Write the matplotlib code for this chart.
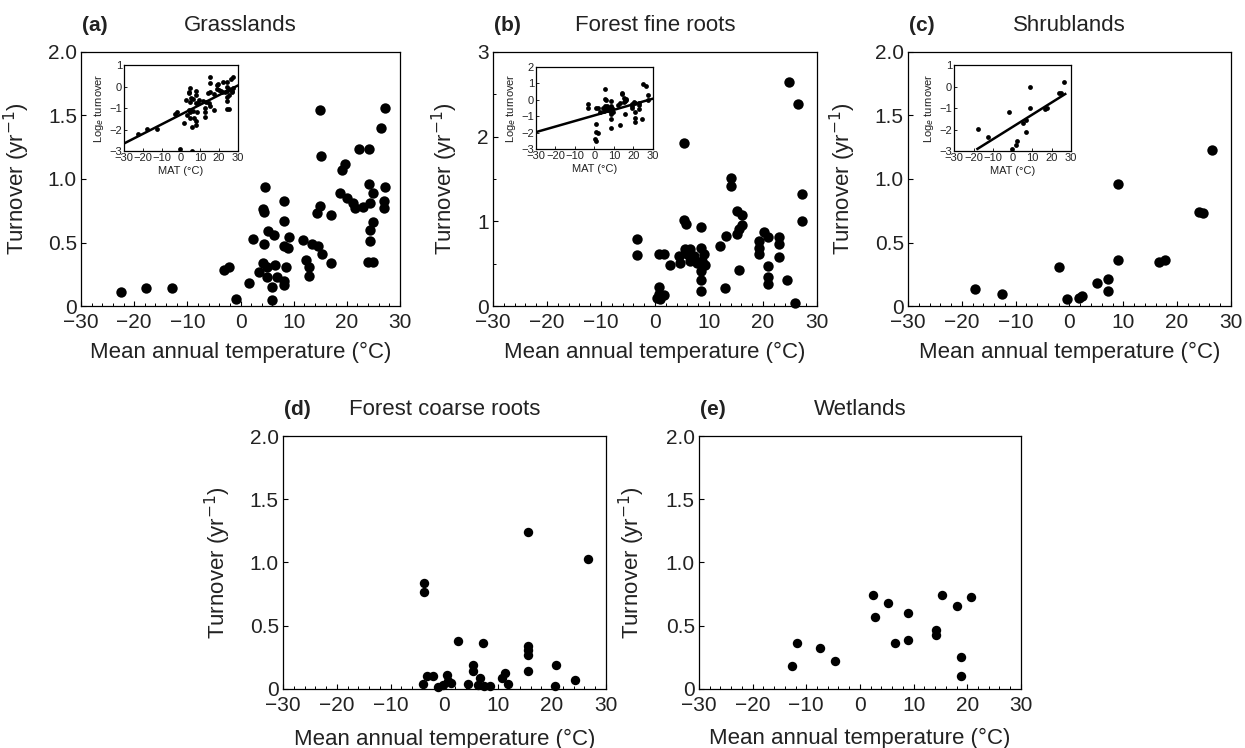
"""Root turnover vs mean annual temperature, five biomes (panels a-e)."""

import numpy as np
import matplotlib
matplotlib.use("Agg")
import matplotlib.pyplot as plt
from matplotlib.ticker import MultipleLocator, FuncFormatter

plt.rcParams["font.family"] = ["Liberation Sans", "DejaVu Sans"]
plt.rcParams["axes.unicode_minus"] = True

# --- data (MAT in degC, turnover in yr-1) ---
grass_mat = [-22.4, -17.8, -12.8, -3.1, -2.1, -0.8, 1.6, 2.4, 4.6, 4.3, 4.4, 4.5,
             5.2, 6.3, 3.4, 4.3, 4.9, 4.9, 5.9, 5.9, 6.5, 6.8, 8.1, 8.1, 8.1,
             9.0, 9.2, 8.5, 8.1, 8.1, 11.8, 12.4, 12.8, 12.8, 13.4, 14.3, 14.6,
             15.0, 15.1, 15.0, 15.3, 17.1, 17.1, 18.7, 19.0, 19.7, 20.0, 21.2,
             21.5, 22.2, 23.1, 24.2, 24.2, 24.4, 25.0, 24.4, 25.0, 24.4, 24.0,
             25.0, 26.5, 27.2, 27.2, 26.9, 26.9]
grass_turn = [0.11, 0.14, 0.14, 0.28, 0.31, 0.055, 0.18, 0.53, 0.94, 0.76, 0.74,
              0.49, 0.59, 0.56, 0.27, 0.34, 0.31, 0.23, 0.15, 0.05, 0.32, 0.23,
              0.83, 0.67, 0.47, 0.46, 0.54, 0.31, 0.20, 0.165, 0.52, 0.36, 0.31,
              0.24, 0.49, 0.73, 0.47, 1.54, 1.18, 0.79, 0.41, 0.72, 0.34, 0.89,
              1.07, 1.12, 0.85, 0.81, 0.77, 1.24, 0.78, 1.24, 0.96, 0.81, 0.89,
              0.60, 0.66, 0.51, 0.35, 0.35, 1.40, 1.56, 0.94, 0.83, 0.77]

fine_mat = [-3.3, -3.3, 0.7, 1.6, 0.7, 0.7, 0.4, 1.6, 1.0, 2.7, 4.4, 4.7, 5.3,
            5.4, 5.8, 5.6, 5.9, 6.5, 6.4, 7.2, 7.7, 8.6, 8.6, 9.0, 8.7, 9.3,
            8.6, 8.6, 8.6, 12.1, 13.0, 13.2, 14.1, 14.1, 15.1, 15.5, 15.1, 16.1,
            16.1, 15.5, 19.2, 19.2, 19.2, 20.1, 21.0, 21.0, 21.0, 21.0, 22.9,
            22.9, 22.9, 24.4, 24.8, 26.4, 26.0, 27.2, 27.2]
fine_turn = [0.79, 0.60, 0.62, 0.61, 0.23, 0.14, 0.09, 0.13, 0.08, 0.49, 0.59,
             0.51, 1.93, 1.02, 0.97, 0.67, 0.61, 0.67, 0.53, 0.59, 0.51, 0.93,
             0.69, 0.61, 0.53, 0.49, 0.41, 0.31, 0.18, 0.71, 0.21, 0.83, 1.51,
             1.42, 0.85, 0.42, 1.12, 1.08, 0.96, 0.91, 0.77, 0.69, 0.61, 0.87,
             0.81, 0.47, 0.34, 0.26, 0.81, 0.73, 0.58, 0.31, 2.64, 2.38, 0.04,
             1.32, 1.00]

shrub_mat = [-17.5, -12.5, -1.9, -0.5, 1.8, 2.3, 5.2, 7.1, 7.1, 9.1, 9.1, 16.6,
             17.7, 24.0, 24.8, 26.5]
shrub_turn = [0.136, 0.094, 0.31, 0.055, 0.066, 0.081, 0.18, 0.21, 0.12, 0.957,
              0.36, 0.35, 0.36, 0.737, 0.73, 1.227]

coarse_mat = [-3.8, -3.8, -4.0, -3.3, -2.1, -1.2, 0.4, 0.7, -0.2, 1.3, 2.5, 4.4,
              5.3, 5.3, 6.3, 6.6, 7.2, 7.3, 8.4, 10.6, 11.2, 11.8, 15.6, 15.6,
              15.6, 15.6, 15.6, 20.8, 20.6, 24.2, 26.7]
coarse_turn = [0.84, 0.77, 0.04, 0.10, 0.105, 0.016, 0.11, 0.06, 0.034, 0.05,
               0.38, 0.04, 0.19, 0.14, 0.034, 0.087, 0.36, 0.02, 0.02, 0.087,
               0.126, 0.04, 1.24, 0.34, 0.31, 0.27, 0.14, 0.19, 0.02, 0.074, 1.03]

wet_mat = [-12.6, -11.8, -7.5, -4.7, 2.5, 2.8, 5.3, 6.6, 9.0, 9.0, 14.1, 14.1,
           15.3, 18.1, 18.9, 18.9, 20.7]
wet_turn = [0.18, 0.36, 0.325, 0.224, 0.74, 0.57, 0.68, 0.364, 0.60, 0.39,
            0.464, 0.43, 0.74, 0.654, 0.25, 0.10, 0.73]

# inset regression lines (intercept, slope, x range)
fit_grass = (-1.30, 0.045, (-30, 30))
fit_fine = (-0.95, 0.034, (-30, 30))
fit_shrub = (-1.88, 0.0567, (-18, 27))

TXT = "#222222"
XLABEL = "Mean annual temperature (\u00b0C)"
YLABEL = "Turnover (yr$^{-1}$)"


def fmt_num(v, _pos=None):
    if abs(v) < 1e-9:
        return "0"
    s = f"{v:g}" if float(v).is_integer() else f"{v:.1f}"
    return s.replace("-", "\u2212")


def fmt_half(v, _pos=None):
    if abs(v) < 1e-9:
        return "0"
    return f"{v:.1f}"


def style_main(ax, ymax, ystep, half_fmt, ylab_x, xlab_y, minor_y=None):
    ax.set_xlim(-30, 30)
    ax.set_ylim(0, ymax)
    ax.xaxis.set_major_locator(MultipleLocator(10))
    ax.xaxis.set_minor_locator(MultipleLocator(2))
    ax.yaxis.set_major_locator(MultipleLocator(ystep))
    if minor_y:
        ax.yaxis.set_minor_locator(MultipleLocator(minor_y))
    ax.xaxis.set_major_formatter(FuncFormatter(fmt_num))
    ax.yaxis.set_major_formatter(FuncFormatter(fmt_half if half_fmt else fmt_num))
    ax.tick_params(which="both", direction="in", colors="black",
                   labelcolor=TXT, labelsize=15)
    ax.tick_params(which="major", length=3.5, width=0.8)
    ax.tick_params(which="minor", length=2.5, width=0.7)
    ax.tick_params(axis="x", pad=5)
    ax.tick_params(axis="y", pad=3)
    for sp in ax.spines.values():
        sp.set_linewidth(0.9)
    ax.set_xlabel(XLABEL, fontsize=16, color=TXT)
    ax.set_ylabel(YLABEL, fontsize=16, color=TXT)
    # label coords: right edge of the y label, top edge of the x label
    ax.yaxis.set_label_coords(ylab_x, 0.5)
    ax.xaxis.set_label_coords(0.5, xlab_y)


def add_title(fig, ax, tag, name, y):
    pos = ax.get_position()
    fig.text(pos.x0 + 0.001, y, tag, fontsize=15, fontweight="bold",
             color=TXT, ha="left", va="center")
    fig.text(pos.x0 + pos.width / 2, y, name, fontsize=16, color=TXT,
             ha="center", va="center")


def add_inset(fig, rect, mat, turn, fit, ylim):
    ins = fig.add_axes(rect)
    ins.scatter(mat, np.log(turn), s=12, color="black", lw=0, zorder=3)
    b0, b1, (x0, x1) = fit
    xs = np.array([x0, x1])
    ins.plot(xs, b0 + b1 * xs, color="black", lw=1.8, zorder=2)
    ins.set_xlim(-30, 30)
    ins.set_ylim(*ylim)
    ins.xaxis.set_major_locator(MultipleLocator(10))
    ins.yaxis.set_major_locator(MultipleLocator(1))
    ins.xaxis.set_major_formatter(FuncFormatter(fmt_num))
    ins.yaxis.set_major_formatter(FuncFormatter(fmt_num))
    ins.tick_params(direction="in", length=2, width=0.6, labelsize=8,
                    labelcolor=TXT, pad=1.5)
    for sp in ins.spines.values():
        sp.set_linewidth(0.9)
    ins.set_xlabel("MAT (\u00b0C)", fontsize=8, color=TXT, labelpad=2)
    ins.set_ylabel("Log$_e$ turnover", fontsize=8, color=TXT, labelpad=2)
    return ins


fig = plt.figure(figsize=(12.45, 7.48), dpi=100)

top_b, top_h = 0.5909, 0.3396
bot_b, bot_h = 0.0789, 0.3382

ax_a = fig.add_axes([0.0651, top_b, 0.2562, top_h])
ax_b = fig.add_axes([0.3960, top_b, 0.2602, top_h])
ax_c = fig.add_axes([0.7293, top_b, 0.2594, top_h])
ax_d = fig.add_axes([0.2273, bot_b, 0.2594, bot_h])
ax_e = fig.add_axes([0.5614, bot_b, 0.2586, bot_h])

ax_a.scatter(grass_mat, grass_turn, s=56, color="black", lw=0, clip_on=False)
ax_b.scatter(fine_mat, fine_turn, s=56, color="black", lw=0, clip_on=False)
ax_c.scatter(shrub_mat, shrub_turn, s=56, color="black", lw=0, clip_on=False)
ax_d.scatter(coarse_mat, coarse_turn, s=46, color="black", lw=0, clip_on=False)
ax_e.scatter(wet_mat, wet_turn, s=46, color="black", lw=0, clip_on=False)

style_main(ax_a, 2.0, 0.5, True, -0.154, -0.14)
style_main(ax_b, 3.0, 1.0, False, -0.102, -0.14, minor_y=0.5)
style_main(ax_c, 2.0, 0.5, True, -0.155, -0.14)
style_main(ax_d, 2.0, 0.5, True, -0.155, -0.158)
style_main(ax_e, 2.0, 0.5, True, -0.161, -0.155)

add_title(fig, ax_a, "(a)", "Grasslands", 0.966)
add_title(fig, ax_b, "(b)", "Forest fine roots", 0.966)
add_title(fig, ax_c, "(c)", "Shrublands", 0.966)
add_title(fig, ax_d, "(d)", "Forest coarse roots", 0.453)
add_title(fig, ax_e, "(e)", "Wetlands", 0.453)

add_inset(fig, [0.0996, 0.7981, 0.0916, 0.1150], grass_mat, grass_turn,
          fit_grass, (-3, 1))
add_inset(fig, [0.4305, 0.8008, 0.0940, 0.1096], fine_mat, fine_turn,
          fit_fine, (-3, 2))
add_inset(fig, [0.7663, 0.7981, 0.0940, 0.1150], shrub_mat, shrub_turn,
          fit_shrub, (-3, 1))

fig.savefig("out.png", dpi=100)
plt.close(fig)
